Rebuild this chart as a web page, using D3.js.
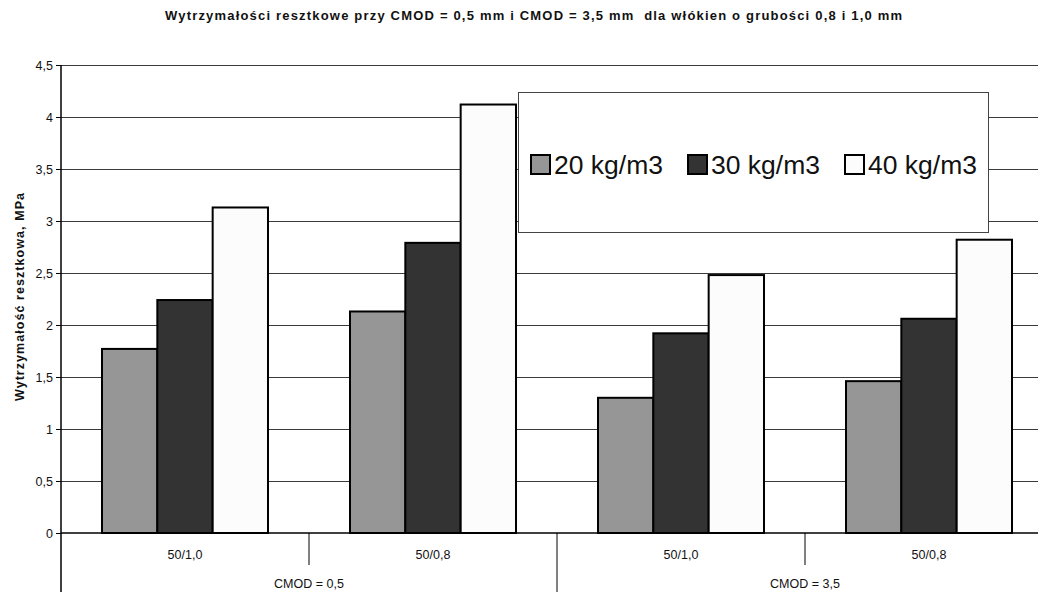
<!DOCTYPE html>
<html>
<head>
<meta charset="utf-8">
<script src="https://cdn.jsdelivr.net/npm/d3@7"></script>
<style>
  body { margin: 0; background: #fff; }
  svg { display: block; font-family: Arial, "Liberation Sans", sans-serif; }
  text { white-space: pre; }
</style>
</head>
<body>
<svg id="chart"></svg>
<script>
// ---------- data ----------
var categories = ["50/1,0", "50/0,8", "50/1,0", "50/0,8"]
var groups = ["CMOD = 0,5", "CMOD = 3,5"]
var seriesNames = ["20 kg/m3", "30 kg/m3", "40 kg/m3"]
var s20 = [1.77, 2.13, 1.30, 1.46]
var s30 = [2.24, 2.79, 1.92, 2.06]
var s40 = [3.13, 4.12, 2.48, 2.82]
var yTicks = [0, 0.5, 1, 1.5, 2, 2.5, 3, 3.5, 4, 4.5]
var colors = ["#969696", "#333333", "#fcfcfc"]

var title = "Wytrzymałości resztkowe przy CMOD = 0,5 mm i CMOD = 3,5 mm  dla włókien o grubości 0,8 i 1,0 mm"
var yTitle = "Wytrzymałość resztkowa, MPa"

var screen = {width: 1038, height: 592}
var margins = {left: 61, top: 65}
var graph = {width: 992, height: 468}

var svg = d3.select("#chart")
  .attr("width", screen.width)
  .attr("height", screen.height)

// ---------- scales ----------
var idx = categories.map(function(c, i) { return i })
var xScale = d3.scaleBand().domain(idx).range([0, graph.width]).padding(0)
var gap = 41
var xInner = d3.scaleBand().domain([0, 1, 2])
  .range([gap, xScale.bandwidth() - gap]).padding(0)
var yScale = d3.scaleLinear().domain([0, 4.5]).range([graph.height, 0])

var plot = svg.append("g")
  .attr("transform", "translate(" + margins.left + "," + margins.top + ")")

// ---------- gridlines ----------
plot.append("g")
  .selectAll("line")
  .data(yTicks.filter(function(d) { return d > 0 }))
  .enter()
  .append("line")
  .attr("x1", 0)
  .attr("x2", graph.width)
  .attr("y1", function(d) { return Math.round(yScale(d)) + 0.5 })
  .attr("y2", function(d) { return Math.round(yScale(d)) + 0.5 })
  .attr("stroke", "#3a3a3a")
  .attr("stroke-width", 1)

// ---------- bars ----------
var table = idx.map(function(i) {
  return [s20[i], s30[i], s40[i]].map(function(v, k) { return {cat: i, k: k, value: v} })
})

plot.append("g")
  .selectAll("g")
  .data(table)
  .enter()
  .append("g")
  .attr("transform", function(d, i) { return "translate(" + xScale(i) + ",0)" })
  .selectAll("rect")
  .data(function(d) { return d })
  .enter()
  .append("rect")
  .attr("x", function(d) { return xInner(d.k) })
  .attr("y", function(d) { return yScale(d.value) })
  .attr("width", xInner.bandwidth())
  .attr("height", function(d) { return graph.height - yScale(d.value) })
  .attr("fill", function(d) { return colors[d.k] })
  .attr("stroke", "#000")
  .attr("stroke-width", 2)

// ---------- y axis ----------
var yAxis = d3.axisLeft(yScale)
  .tickValues(yTicks)
  .tickSize(5)
  .tickFormat(function(d) { return String(d).replace(".", ",") })

var yg = plot.append("g").call(yAxis)
yg.select(".domain").remove()
yg.selectAll(".tick line").attr("stroke", "#000")
yg.selectAll(".tick text")
  .attr("x", -8)
  .attr("font-size", "12.5px")
  .attr("font-family", "Arial, 'Liberation Sans', sans-serif")
  .attr("fill", "#111")

// left axis line runs down through the category rows
plot.append("line")
  .attr("x1", 0).attr("x2", 0)
  .attr("y1", 0).attr("y2", screen.height - margins.top)
  .attr("stroke", "#000").attr("stroke-width", 1.5)

// zero line
plot.append("line")
  .attr("x1", 0).attr("x2", graph.width)
  .attr("y1", graph.height).attr("y2", graph.height)
  .attr("stroke", "#000").attr("stroke-width", 1.5)

// ---------- x axis (two levels) ----------
idx.forEach(function(i) {
  if (i == 0) return
  var long = (i % 2 == 0)
  plot.append("line")
    .attr("x1", xScale(i)).attr("x2", xScale(i))
    .attr("y1", graph.height)
    .attr("y2", long ? screen.height - margins.top : graph.height + 32)
    .attr("stroke", "#000").attr("stroke-width", 1)
})

plot.append("g")
  .selectAll("text")
  .data(categories)
  .enter()
  .append("text")
  .attr("x", function(d, i) { return xScale(i) + xScale.bandwidth() / 2 })
  .attr("y", graph.height + 26)
  .attr("text-anchor", "middle")
  .attr("font-size", "12.5px")
  .attr("fill", "#111")
  .text(function(d) { return d })

plot.append("g")
  .selectAll("text")
  .data(groups)
  .enter()
  .append("text")
  .attr("x", function(d, i) { return xScale(i * 2) + xScale.bandwidth() })
  .attr("y", graph.height + 55)
  .attr("text-anchor", "middle")
  .attr("font-size", "12.5px")
  .attr("fill", "#111")
  .text(function(d) { return d })

// ---------- titles ----------
svg.append("text")
  .attr("x", 533.5)
  .attr("y", 20)
  .attr("text-anchor", "middle")
  .attr("font-size", "13px")
  .attr("font-weight", "bold")
  .attr("fill", "#111")
  .attr("textLength", 737)
  .attr("lengthAdjust", "spacing")
  .text(title)

svg.append("text")
  .attr("transform", "translate(24," + (margins.top + graph.height / 2 - 2) + ") rotate(-90)")
  .attr("text-anchor", "middle")
  .attr("font-size", "12.5px")
  .attr("font-weight", "bold")
  .attr("fill", "#111")
  .attr("textLength", 208)
  .attr("lengthAdjust", "spacing")
  .text(yTitle)

// ---------- legend ----------
var legend = svg.append("g").attr("transform", "translate(518,92)")
legend.append("rect")
  .attr("x", 0.5).attr("y", 0.5)
  .attr("width", 470).attr("height", 140)
  .attr("fill", "#fff")
  .attr("stroke", "#444").attr("stroke-width", 1)

var legendX = [13, 170, 327]
var items = legend.selectAll("g.item")
  .data(seriesNames)
  .enter()
  .append("g")
  .attr("class", "item")
  .attr("transform", function(d, i) { return "translate(" + legendX[i] + ",63)" })

items.append("rect")
  .attr("width", 19).attr("height", 19)
  .attr("fill", function(d, i) { return colors[i] })
  .attr("stroke", "#000").attr("stroke-width", 2)

items.append("text")
  .attr("x", 23)
  .attr("y", 19)
  .attr("font-size", "26.5px")
  .attr("fill", "#111")
  .text(function(d) { return d })
</script>
</body>
</html>
